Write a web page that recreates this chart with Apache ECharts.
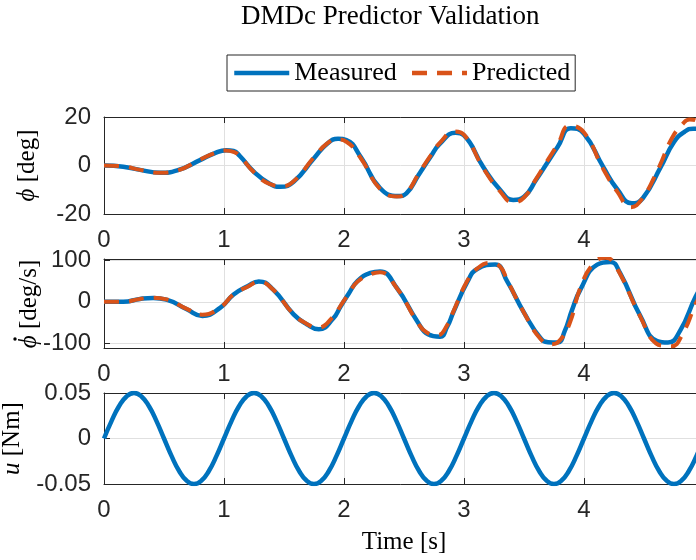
<!DOCTYPE html>
<html><head><meta charset="utf-8">
<script src="https://cdn.jsdelivr.net/npm/echarts@6/dist/echarts.min.js"></script>
<style>html,body{margin:0;padding:0;background:#fff}#c{width:696px;height:560px}</style>
</head><body><div id="c"></div>
<script>
// Roll angle phi [deg]
const phiTime = [0, 0.16, 0.30, 0.47, 0.61, 0.80, 0.92, 1.02, 1.08, 1.13, 1.25, 1.38, 1.47, 1.58, 1.75, 1.86, 1.95, 2.02, 2.14, 2.30, 2.45, 2.52, 2.62, 2.72, 2.80, 2.93, 3.00, 3.16, 3.30, 3.41, 3.50, 3.60, 3.69, 3.78, 3.89, 4.00, 4.16, 4.28, 4.40, 4.49, 4.64, 4.75, 4.84, 4.91, 5.00];
const phiMeasured = [0, -0.5, -1.8, -3, -2, 2.2, 5, 6.3, 6, 4, -2.6, -7.5, -8.8, -6.7, 3, 9, 11, 10.5, 3.5, -9.3, -12.6, -11.5, -4, 3.5, 9, 13.5, 12.4, -0.6, -10, -14.2, -12.9, -6, 0.8, 7.6, 15.4, 13.1, -0.6, -10, -15.6, -13.5, -0.6, 9.7, 14, 15.2, 14];
const phiPredTime = [0, 0.16, 0.30, 0.47, 0.61, 0.80, 0.92, 1.01, 1.08, 1.13, 1.25, 1.38, 1.48, 1.58, 1.75, 1.86, 1.94, 2.02, 2.14, 2.30, 2.44, 2.52, 2.62, 2.72, 2.80, 2.92, 3.00, 3.16, 3.30, 3.41, 3.50, 3.60, 3.69, 3.78, 3.88, 4.00, 4.16, 4.28, 4.39, 4.48, 4.62, 4.73, 4.82, 4.88, 4.95, 5.00];
const phiPredicted = [0, -0.4, -1.8, -3, -2.1, 2.4, 5.1, 6.2, 5.6, 4, -2.8, -7.6, -8.5, -6.5, 3.4, 9.1, 10.8, 9.8, 3, -9.6, -12.8, -11.2, -3.6, 4, 9.4, 14, 12.6, -1, -10.6, -15.2, -13.2, -5.6, 1.6, 8.6, 16.4, 13.6, -1.4, -11, -17.2, -14, -1.2, 11, 17, 19, 18.2, 16];

// Roll rate phi-dot [deg/s]
const rateTime = [0, 0.16, 0.30, 0.41, 0.52, 0.69, 0.82, 0.97, 1.08, 1.20, 1.29, 1.41, 1.58, 1.69, 1.79, 1.91, 1.97, 2.04, 2.11, 2.22, 2.30, 2.44, 2.61, 2.70, 2.80, 2.86, 2.91, 3.03, 3.11, 3.26, 3.36, 3.50, 3.64, 3.70, 3.78, 3.84, 3.90, 3.97, 4.11, 4.22, 4.30, 4.47, 4.61, 4.70, 4.80, 4.93, 5.00];
const rateMeasured = [0, 0, 7, 9.5, 5.5, -18, -34, -14, 17.5, 38, 49, 29.5, -30, -54, -66, -40, -12, 20, 49, 69.5, 73, 33.5, -46.5, -78, -84, -60, -26, 49, 79, 89.5, 49, -26, -88, -97, -98, -70, -20, 29.5, 89.5, 96, 69.5, -34.5, -94.5, -98, -70, 12, 45];
const ratePredTime = [0, 0.16, 0.30, 0.41, 0.52, 0.69, 0.82, 0.97, 1.08, 1.20, 1.29, 1.41, 1.58, 1.69, 1.78, 1.91, 1.97, 2.04, 2.11, 2.22, 2.30, 2.44, 2.61, 2.69, 2.78, 2.86, 2.91, 3.03, 3.11, 3.22, 3.30, 3.36, 3.50, 3.64, 3.73, 3.80, 3.88, 3.97, 4.08, 4.18, 4.26, 4.47, 4.60, 4.68, 4.73, 4.82, 4.93, 5.00];
const ratePredicted = [0, 0, 7, 10, 6, -17, -31, -13, 18, 37, 48, 29, -30, -53, -62, -36, -10, 20, 48, 66, 71, 33, -48, -74, -80, -56, -24, 52, 80, 93.5, 85, 52, -26, -90, -102, -92, -52, 34, 92, 106, 88, -36, -100, -106, -107, -78, -5, 35];

// Input torque u [Nm]
const uTime = [0, 0.0625, 0.125, 0.1875, 0.25, 0.3125, 0.375, 0.4375, 0.5, 0.5625, 0.625, 0.6875, 0.75, 0.8125, 0.875, 0.9375,
  1, 1.0625, 1.125, 1.1875, 1.25, 1.3125, 1.375, 1.4375, 1.5, 1.5625, 1.625, 1.6875, 1.75, 1.8125, 1.875, 1.9375,
  2, 2.0625, 2.125, 2.1875, 2.25, 2.3125, 2.375, 2.4375, 2.5, 2.5625, 2.625, 2.6875, 2.75, 2.8125, 2.875, 2.9375,
  3, 3.0625, 3.125, 3.1875, 3.25, 3.3125, 3.375, 3.4375, 3.5, 3.5625, 3.625, 3.6875, 3.75, 3.8125, 3.875, 3.9375,
  4, 4.0625, 4.125, 4.1875, 4.25, 4.3125, 4.375, 4.4375, 4.5, 4.5625, 4.625, 4.6875, 4.75, 4.8125, 4.875, 4.9375, 5];
const uInput = [0, 0.0191, 0.0354, 0.0462, 0.05, 0.0462, 0.0354, 0.0191, 0, -0.0191, -0.0354, -0.0462, -0.05, -0.0462, -0.0354, -0.0191,
  0, 0.0191, 0.0354, 0.0462, 0.05, 0.0462, 0.0354, 0.0191, 0, -0.0191, -0.0354, -0.0462, -0.05, -0.0462, -0.0354, -0.0191,
  0, 0.0191, 0.0354, 0.0462, 0.05, 0.0462, 0.0354, 0.0191, 0, -0.0191, -0.0354, -0.0462, -0.05, -0.0462, -0.0354, -0.0191,
  0, 0.0191, 0.0354, 0.0462, 0.05, 0.0462, 0.0354, 0.0191, 0, -0.0191, -0.0354, -0.0462, -0.05, -0.0462, -0.0354, -0.0191,
  0, 0.0191, 0.0354, 0.0462, 0.05, 0.0462, 0.0354, 0.0191, 0, -0.0191, -0.0354, -0.0462, -0.05, -0.0462, -0.0354, -0.0191, 0];

const xTicks = [0, 1, 2, 3, 4, 5];
const rateTicks = [-100, 0, 100];
const titleText = 'DMDc Predictor Validation';

const zip = (t, v) => t.map((x, i) => [x, v[i]]);
const SERIF = 'Liberation Serif';
const SANS = 'Liberation Sans';
const AX = '#262626';
const GRID = '#e0e0e0';
const BLUE = '#0072BD';
const ORANGE = '#D95319';
const LW = 4.5;

const grids = [
  { left: 104, right: -8, top: 117, height: 97 },
  { left: 104, right: -8, top: 259, height: 89 },
  { left: 104, right: -8, top: 393, height: 91 }
].map(g => Object.assign({ outerBoundsMode: 'none', containLabel: false }, g));

function bottomX(i, extra) {
  return Object.assign({
    type: 'value', gridIndex: i, min: xTicks[0], max: xTicks[xTicks.length - 1], interval: 1,
    position: 'bottom',
    axisLine: { show: true, onZero: false, lineStyle: { color: AX, width: 1 } },
    axisTick: { show: true, inside: true, length: 6, lineStyle: { color: AX } },
    axisLabel: { show: true, color: AX, fontFamily: SANS, fontSize: 24, margin: 14 },
    splitLine: { show: true, lineStyle: { color: GRID, width: 1 } }
  }, extra || {});
}
function topX(i) {
  return {
    type: 'value', gridIndex: i, min: xTicks[0], max: xTicks[xTicks.length - 1], interval: 1,
    position: 'top',
    axisLine: { show: true, onZero: false, lineStyle: { color: AX, width: 1 } },
    axisTick: { show: true, inside: true, length: 6, lineStyle: { color: AX } },
    axisLabel: { show: false },
    splitLine: { show: false }
  };
}
const richName = {
  i: { fontFamily: SERIF, fontSize: 25, fontStyle: 'italic', color: '#000' }
};
function nameStyle() {
  return { fontFamily: SERIF, fontSize: 25, color: '#000', rich: richName };
}
function leftY(i, extra) {
  return Object.assign({
    type: 'value', gridIndex: i, position: 'left',
    nameLocation: 'middle', nameRotate: 90, nameGap: 64, nameTextStyle: nameStyle(),
    axisLine: { show: true, onZero: false, lineStyle: { color: AX, width: 1 } },
    axisTick: { show: true, inside: true, length: 6, lineStyle: { color: AX } },
    axisLabel: { show: true, color: AX, fontFamily: SANS, fontSize: 24, margin: 13 },
    splitLine: { show: true, lineStyle: { color: GRID, width: 1 } }
  }, extra);
}

const option = {
  backgroundColor: '#fff',
  animation: false,
  title: {
    text: titleText, left: 241, top: 3, padding: 0,
    textStyle: { fontFamily: SERIF, fontSize: 27, fontWeight: 'normal', color: '#000' }
  },
  legend: {
    data: ['Measured', 'Predicted'],
    left: 227, top: 55, padding: [5, 5], itemGap: 13,
    itemWidth: 55, itemHeight: 14,
    borderColor: AX, borderWidth: 1, backgroundColor: '#fff',
    lineStyle: { width: LW },
    itemStyle: { opacity: 0 },
    textStyle: { fontFamily: SERIF, fontSize: 26, color: '#000' },
    selectedMode: false
  },
  graphic: [{
    type: 'group', x: 29, y: 304, rotation: Math.PI / 2,
    children: [
      { type: 'text', x: 0, y: 0,
        style: { text: '{i|\u03D5} [deg/s]', rich: richName, font: '25px "Liberation Serif"', fill: '#000',
          align: 'center', verticalAlign: 'middle' } },
      { type: 'circle', shape: { cx: -35, cy: -14, r: 1.7 }, style: { fill: '#000' } }
    ]
  }],
  grid: grids,
  xAxis: [
    bottomX(0), topX(0),
    bottomX(1), topX(1),
    bottomX(2, { name: 'Time [s]', nameLocation: 'middle', nameGap: 46,
      nameTextStyle: { fontFamily: SERIF, fontSize: 25, color: '#000' } }),
    topX(2)
  ],
  yAxis: [
    leftY(0, { min: -20, max: 20, interval: 20, name: '{i|\u03D5} [deg]' }),
    leftY(1, { min: -111, max: 103, name: '',
      axisTick: { show: true, inside: true, length: 6, lineStyle: { color: AX }, customValues: rateTicks },
      axisLabel: { show: true, color: AX, fontFamily: SANS, fontSize: 24, margin: 13, customValues: rateTicks },
      splitLine: { show: true, lineStyle: { color: GRID, width: 1 }, customValues: rateTicks } }),
    leftY(2, { min: -0.05, max: 0.05, interval: 0.05, name: '{i|u} [Nm]' })
  ],
  series: [
    { name: 'Measured', type: 'line', xAxisIndex: 0, yAxisIndex: 0, data: zip(phiTime, phiMeasured),
      smooth: 0.5, symbol: 'none', lineStyle: { color: BLUE, width: LW }, itemStyle: { color: BLUE } },
    { name: 'Predicted', type: 'line', xAxisIndex: 0, yAxisIndex: 0, data: zip(phiPredTime, phiPredicted),
      smooth: 0.5, symbol: 'none', lineStyle: { color: ORANGE, width: 4, type: [15, 10] }, itemStyle: { color: ORANGE } },
    { name: 'Measured', type: 'line', xAxisIndex: 2, yAxisIndex: 1, data: zip(rateTime, rateMeasured),
      smooth: 0.5, symbol: 'none', lineStyle: { color: BLUE, width: LW }, itemStyle: { color: BLUE } },
    { name: 'Predicted', type: 'line', xAxisIndex: 2, yAxisIndex: 1, data: zip(ratePredTime, ratePredicted),
      smooth: 0.5, symbol: 'none', lineStyle: { color: ORANGE, width: 4, type: [15, 10] }, itemStyle: { color: ORANGE } },
    { name: 'Input', type: 'line', xAxisIndex: 4, yAxisIndex: 2, data: zip(uTime, uInput),
      smooth: 0.5, symbol: 'none', lineStyle: { color: BLUE, width: LW }, itemStyle: { color: BLUE } }
  ]
};
const chart = echarts.init(document.getElementById('c'), null, { renderer: 'canvas' });
chart.setOption(option);
</script>
</body></html>
